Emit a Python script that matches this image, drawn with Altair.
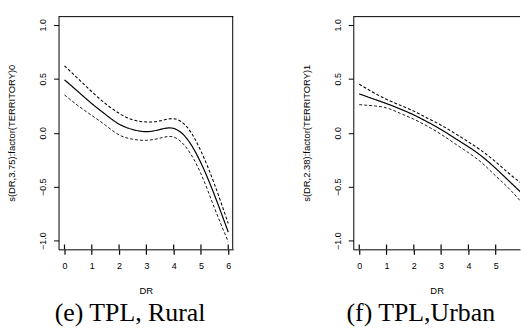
import altair as alt
import pandas as pd

# ---- data ----
dr = [0, 0.5, 1, 1.5, 2, 2.5, 3, 3.5, 4, 4.5, 5, 5.5, 6]

rural_fit = [0.49, 0.38, 0.27, 0.17, 0.08, 0.03, 0.01, 0.03, 0.04, -0.06, -0.28, -0.58, -0.92]
rural_up = [0.62, 0.50, 0.38, 0.27, 0.18, 0.12, 0.10, 0.11, 0.13, 0.05, -0.17, -0.48, -0.84]
rural_lo = [0.35, 0.25, 0.16, 0.07, -0.02, -0.06, -0.07, -0.05, -0.04, -0.15, -0.38, -0.70, -1.01]

urban_fit = [0.36, 0.315, 0.27, 0.22, 0.165, 0.10, 0.03, -0.05, -0.13, -0.22, -0.33, -0.45, -0.57]
urban_up = [0.45, 0.375, 0.31, 0.255, 0.20, 0.135, 0.07, -0.005, -0.085, -0.17, -0.27, -0.38, -0.48]
urban_lo = [0.26, 0.25, 0.23, 0.18, 0.125, 0.06, -0.015, -0.10, -0.185, -0.28, -0.40, -0.52, -0.66]

rug_values = [0, 1, 2, 3, 4, 5, 6]
x_ticks = [0, 1, 2, 3, 4, 5, 6]
y_ticks = [-1.0, -0.5, 0.0, 0.5, 1.0]

titles_y = ["s(DR,3.75):factor(TERRITORY)0", "s(DR,2.38):factor(TERRITORY)1"]
captions = ["(e) TPL, Rural", "(f) TPL,Urban"]

SANS = "Liberation Sans"
SERIF = "Liberation Serif"
H = 235


def panel(fit, up, lo, ytitle, caption, width, xmax, boxed):
    n = len(dr)
    df = pd.DataFrame({
        "DR": dr * 3,
        "v": fit + up + lo,
        "s": ["fit"] * n + ["upper"] * n + ["lower"] * n,
    })
    rug = pd.DataFrame({"DR": rug_values})
    one = pd.DataFrame({"k": [0]})
    xscale = alt.Scale(domain=[-0.218, xmax], nice=False, zero=False)
    yscale = alt.Scale(domain=[-1.08, 1.08], nice=False, zero=False)

    xaxis = alt.Axis(
        values=x_ticks, format="d", title="DR", grid=False,
        domain=True, domainColor="black", domainWidth=1,
        ticks=True, tickSize=5, tickColor="black", tickWidth=1.2,
        labelFont=SANS, labelFontSize=9, labelColor="black", labelPadding=7,
        labelFlush=False, labelOverlap=False,
        titleFont=SANS, titleFontSize=9.5, titleFontWeight="normal", titleColor="black",
        titleY=42, titleBaseline="middle")
    yaxis = alt.Axis(
        values=y_ticks, format=".1f", title=ytitle, grid=False,
        domain=True, domainColor="black", domainWidth=1,
        ticks=True, tickSize=5, tickColor="black", tickWidth=1,
        labelFont=SANS, labelFontSize=9, labelColor="black", labelPadding=6,
        labelAngle=270, labelAlign="center", labelBaseline="bottom",
        labelFlush=False, labelOverlap=False,
        titleFont=SANS, titleFontSize=9.5, titleFontWeight="normal", titleColor="black",
        titleAngle=270, titleX=-47, titleY=H / 2, titleAlign="center", titleBaseline="middle")

    lines = alt.Chart(df).mark_line(color="black", clip=True, interpolate="natural").encode(
        x=alt.X("DR:Q", scale=xscale, axis=xaxis),
        y=alt.Y("v:Q", scale=yscale, axis=yaxis),
        detail="s:N",
        strokeDash=alt.StrokeDash("s:N", scale=alt.Scale(domain=["fit", "upper", "lower"],
                                                         range=[[1, 0], [3, 2], [3, 2]]), legend=None),
        strokeWidth=alt.StrokeWidth("s:N", scale=alt.Scale(domain=["fit", "upper", "lower"],
                                                           range=[1.2, 0.9, 0.9]), legend=None),
    )

    rugs = alt.Chart(rug).mark_rule(color="black", strokeWidth=1.2, clip=True).encode(
        x=alt.X("DR:Q", scale=xscale, axis=xaxis),
        y=alt.value(H - 5), y2=alt.value(H),
    )

    top = alt.Chart(one).mark_rule(color="black", strokeWidth=1).encode(
        x=alt.value(0), x2=alt.value(width), y=alt.value(0.5)
    )
    layers = [lines, rugs, top]
    if boxed:
        right = alt.Chart(one).mark_rule(color="black", strokeWidth=1).encode(
            x=alt.value(width - 0.5), y=alt.value(0), y2=alt.value(H)
        )
        layers.append(right)

    return alt.layer(*layers).properties(
        width=width, height=H,
        title=alt.TitleParams(text=caption, orient="bottom", anchor="middle", frame="group",
                              font=SERIF, fontSize=26, fontWeight="normal", color="black",
                              dx=-16, offset=5),
    )


left = panel(rural_fit, rural_up, rural_lo, titles_y[0], captions[0], 176, 6.182, True)
right = panel(urban_fit, urban_up, urban_lo, titles_y[1], captions[1], 168, 5.891, False)

chart = alt.hconcat(left, right, spacing=67).properties(
    padding={"left": 6, "top": 14, "right": 0, "bottom": 0},
    background="white",
).configure_view(stroke="transparent")

chart.save("out.html", embed_options={"renderer": "svg", "actions": False})
